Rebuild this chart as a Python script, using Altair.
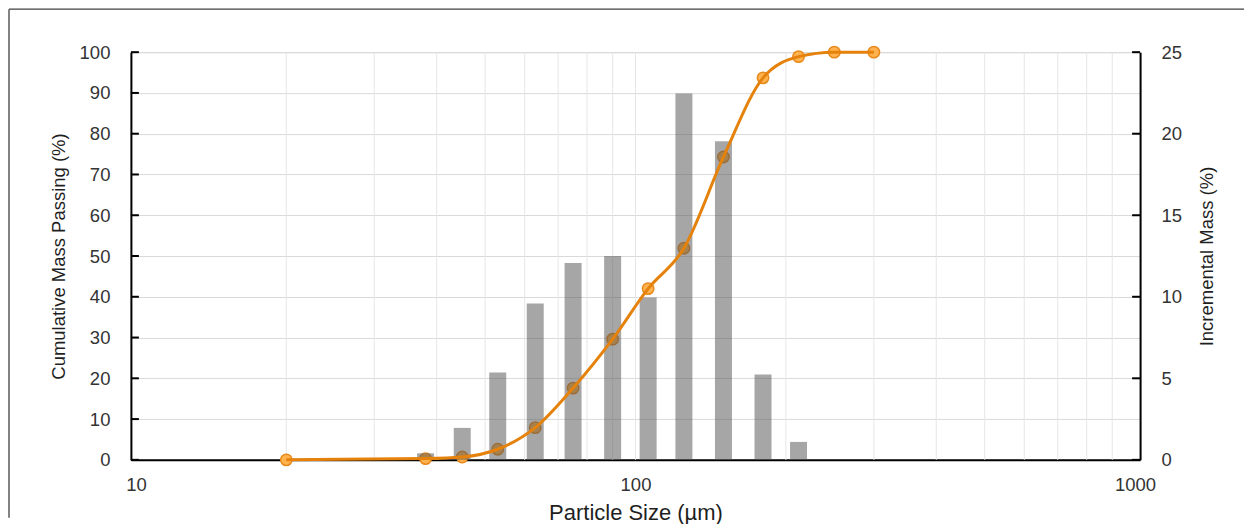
import altair as alt
import pandas as pd

# ---- data ----
sizes = [20, 38, 45, 53, 63, 75, 90, 106, 125, 150, 180, 212, 250, 300]
cum_passing = [0.0, 0.3, 0.7, 2.6, 7.9, 17.6, 29.6, 42.0, 51.9, 74.3, 93.7, 98.9, 100.0, 100.0]
bar_sizes = [38, 45, 53, 63, 75, 90, 106, 125, 150, 180, 212]
incremental = [0.4, 1.96, 5.35, 9.58, 12.07, 12.5, 9.95, 22.47, 19.53, 5.23, 1.10]
x_labels = [10, 100, 1000]
x_grid = [20, 30, 40, 50, 60, 70, 80, 90, 100, 200, 300, 400, 500, 600, 700, 800, 900]
left_ticks = [0, 10, 20, 30, 40, 50, 60, 70, 80, 90, 100]
right_ticks = [0, 5, 10, 15, 20, 25]

W, H = 1010, 408
FONT = "Liberation Sans"
LABEL_COLOR = "#333333"
TITLE_COLOR = "#1f1f1f"

cum_df = pd.DataFrame({"size": sizes, "cum": cum_passing})
inc_df = pd.DataFrame({"size": bar_sizes, "inc": incremental})
grid_df = pd.DataFrame({"g": x_grid})
lt_df = pd.DataFrame({"t": left_ticks})
rt_df = pd.DataFrame({"t": right_ticks})
one = pd.DataFrame({"a": [0]})

x_axis = alt.Axis(
    values=x_labels, format="d", grid=False, ticks=False, tickSize=0,
    domain=True, domainColor="black", domainWidth=2,
    labelFontSize=18.5, labelColor=LABEL_COLOR, labelPadding=16, labelFont=FONT,
    labelFlush=False, labelOverlap=False,
    title="Particle Size (µm)", titleFontSize=22, titleFontWeight="normal",
    titleColor=TITLE_COLOR, titlePadding=8, titleFont=FONT,
)
x_scale = alt.Scale(type="log", domain=[10, 1000], nice=False)


def xenc(field):
    return alt.X(f"{field}:Q", scale=x_scale, axis=x_axis)


left_scale = alt.Scale(domain=[0, 100], nice=False, zero=True)
right_scale = alt.Scale(domain=[0, 25], nice=False, zero=True)

left_axis = alt.Axis(
    orient="left", values=left_ticks, grid=True, gridColor="#D9D9D9", gridWidth=1,
    domain=True, domainColor="black", domainWidth=2, ticks=False, tickSize=0,
    labelFontSize=18.5, labelColor=LABEL_COLOR, labelPadding=21, labelFont=FONT,
    labelFlush=False,
    title="Cumulative Mass Passing (%)", titleFontSize=18.5, titleFontWeight="normal",
    titleColor=TITLE_COLOR, titlePadding=11, titleFont=FONT,
)
right_axis = alt.Axis(
    orient="right", values=right_ticks, grid=False,
    domain=True, domainColor="black", domainWidth=2, ticks=False, tickSize=0,
    labelFontSize=18.5, labelColor=LABEL_COLOR, labelPadding=21, labelFont=FONT,
    labelFlush=False,
    title="Incremental Mass (%)", titleFontSize=18.5, titleFontWeight="normal",
    titleColor=TITLE_COLOR, titlePadding=35, titleFont=FONT, titleAngle=270,
)

vgrid = alt.Chart(grid_df).mark_rule(color="#E6E6E6", strokeWidth=1).encode(
    x=xenc("g"), y=alt.value(0), y2=alt.value(H)
)

points = alt.Chart(cum_df).mark_point(
    shape="circle", filled=True, fill="#FFB24D", stroke="#E8891B",
    strokeWidth=1.5, size=130, opacity=1
).encode(x=xenc("size"), y=alt.Y("cum:Q", scale=left_scale, axis=None))

bars = alt.Chart(inc_df).mark_bar(size=17, color="#555555", opacity=0.52).encode(
    x=xenc("size"), y=alt.Y("inc:Q", scale=right_scale, axis=right_axis)
)

line = alt.Chart(cum_df).mark_line(
    color="#E5820C", strokeWidth=3, interpolate="monotone"
).encode(x=xenc("size"), y=alt.Y("cum:Q", scale=left_scale, axis=left_axis))

lticks = alt.Chart(lt_df).mark_rule(color="black", strokeWidth=2).encode(
    y=alt.Y("t:Q", scale=left_scale, axis=None), x=alt.value(0), x2=alt.value(8)
)
rticks = alt.Chart(rt_df).mark_rule(color="black", strokeWidth=2).encode(
    y=alt.Y("t:Q", scale=right_scale, axis=None), x=alt.value(W - 8), x2=alt.value(W)
)

border_top = alt.Chart(one).mark_rule(color="#404040", strokeWidth=1.3).encode(
    x=alt.value(-122), x2=alt.value(1114), y=alt.value(-43)
)
border_left = alt.Chart(one).mark_rule(color="#404040", strokeWidth=1.3).encode(
    x=alt.value(-122), y=alt.value(-43), y2=alt.value(466)
)

chart = (
    alt.layer(vgrid, points, bars, line, lticks, rticks, border_top, border_left)
    .resolve_scale(y="independent")
    .resolve_axis(y="independent")
    .properties(width=W, height=H, padding=0)
    .configure_view(stroke=None)
    .configure(font=FONT)
)

chart.save("out.html", embed_options={"renderer": "svg", "actions": False})
